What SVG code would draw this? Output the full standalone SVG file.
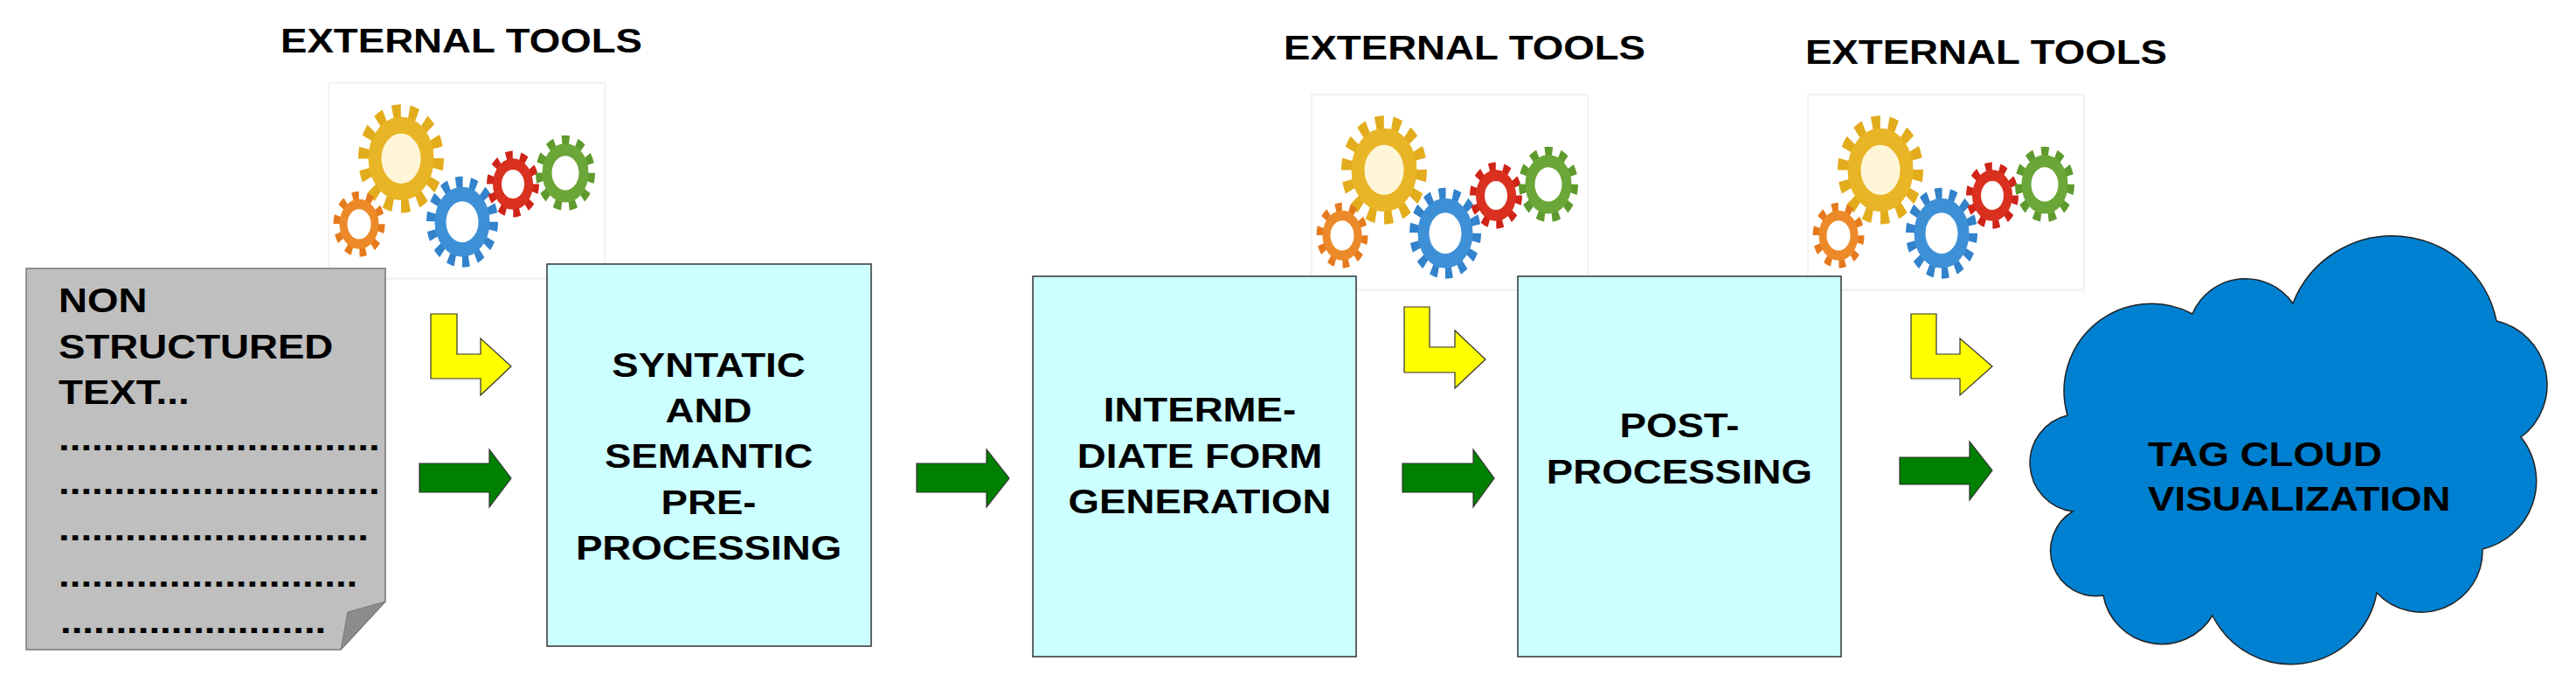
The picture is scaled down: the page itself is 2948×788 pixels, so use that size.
<svg xmlns="http://www.w3.org/2000/svg" xmlns:xlink="http://www.w3.org/1999/xlink" width="2948" height="788" viewBox="0 0 2948 788">
<style>
.t{font-family:"Liberation Sans",Arial,sans-serif;font-weight:bold;font-size:39px;fill:#000}
.m{text-anchor:middle}
.box{fill:#ccffff;stroke:#333;stroke-width:1.5}
.ya{fill:#ffff00;stroke:#333;stroke-width:1.2}
.ga{fill:#008000;stroke:#333;stroke-width:1.2}
</style>
<defs>
<g id="gears">
<rect x="0" y="0" width="316" height="176" fill="#fff" stroke="#f2f2f2" stroke-width="2"/>
<g transform="translate(83,68)"><circle r="40" fill="none" stroke="#e2ac1c" stroke-width="18" stroke-dasharray="9 8.9"/><circle r="30" fill="#fff6d8" stroke="#e8b526" stroke-width="15"/></g>
<g transform="translate(35,127)"><circle r="24" fill="none" stroke="#e57a1d" stroke-width="11" stroke-dasharray="7 8.1"/><circle r="18" fill="#fff" stroke="#ec8a2a" stroke-width="9"/></g>
<g transform="translate(153,125)"><circle r="34" fill="none" stroke="#3282cc" stroke-width="14" stroke-dasharray="7.5 7.8"/><circle r="25" fill="#fff" stroke="#3e90d6" stroke-width="13"/></g>
<g transform="translate(211,91)"><circle r="25" fill="none" stroke="#cf2418" stroke-width="10" stroke-dasharray="7.5 8.2"/><circle r="18" fill="#fff" stroke="#d9301f" stroke-width="10"/></g>
<g transform="translate(271,81)"><circle r="28" fill="none" stroke="#5f9a2e" stroke-width="12" stroke-dasharray="8 8"/><circle r="21" fill="#fff" stroke="#6ba638" stroke-width="11"/></g>
</g>
</defs>
<g id="tools1"><use xlink:href="#gears" transform="translate(376,95) scale(1,1.27)"/></g>
<g id="tools2"><use xlink:href="#gears" transform="translate(1501,108) scale(1,1.27)"/></g>
<g id="tools3"><use xlink:href="#gears" transform="translate(2069,108) scale(1,1.27)"/></g>
<g id="doc">
<path d="M30,307 H441 V688 L390,743 H30 Z" fill="#bfbfbf" stroke="#777" stroke-width="1.5"/>
<path d="M441,688 L390,743 L398,700 Z" fill="#8c8c8c" stroke="#777" stroke-width="1"/>
</g>
<g id="box1"><rect class="box" x="626" y="302" width="371" height="437"/></g>
<g id="box2"><rect class="box" x="1182" y="316" width="370" height="435"/></g>
<g id="box3"><rect class="box" x="1737" y="316" width="370" height="435"/></g>
<g id="cloud"><path d="M2366,475 A100,100 0 0 1 2509,359 A66,66 0 0 1 2624,347 A122,122 0 0 1 2857,367 A75,75 0 0 1 2885,500 A80,80 0 0 1 2841,628 A70,70 0 0 1 2720,678 A100,100 0 0 1 2532,704 A68,68 0 0 1 2407,681 A52,52 0 0 1 2372,585 A56,56 0 0 1 2366,475 Z" fill="#0080d0" stroke="#222" stroke-width="1.5"/></g>
<g id="connectors">
<path class="ya" d="M493,359 H523 V405 H550 V387 L585,419 L550,452 V433 H493 Z"/>
<path class="ya" d="M1607,351 H1636 V397 H1665 V378 L1700,411 L1665,444 V426 H1607 Z"/>
<path class="ya" d="M2187,359 H2216 V405 H2243 V387 L2280,419 L2243,452 V433 H2187 Z"/>
<path class="ga" d="M480,530 H560 V514 L585,547 L560,580 V563 H480 Z"/>
<path class="ga" d="M1049,530 H1129 V514 L1155,547 L1129,580 V563 H1049 Z"/>
<path class="ga" d="M1605,530 H1686 V514 L1710,547 L1686,580 V563 H1605 Z"/>
<path class="ga" d="M2174,523 H2254 V505 L2280,538 L2254,572 V554 H2174 Z"/>
</g>
<g id="labels" transform="scale(1.17,1)">
<text class="t m" x="451.3" y="60">EXTERNAL TOOLS</text>
<text class="t m" x="1432.5" y="68">EXTERNAL TOOLS</text>
<text class="t m" x="1942.7" y="73">EXTERNAL TOOLS</text>
<text class="t" x="57.3" y="357">NON</text>
<text class="t" x="57.3" y="410">STRUCTURED</text>
<text class="t" x="57.3" y="462">TEXT...</text>
<text class="t" x="57.3" y="515">.............................</text>
<text class="t" x="57.3" y="565">.............................</text>
<text class="t" x="57.3" y="618">............................</text>
<text class="t" x="57.3" y="671">...........................</text>
<text class="t" x="59" y="724">........................</text>
<text class="t m" x="693.2" y="431">SYNTATIC</text>
<text class="t m" x="693.2" y="483">AND</text>
<text class="t m" x="693.2" y="535">SEMANTIC</text>
<text class="t m" x="693.2" y="588">PRE-</text>
<text class="t m" x="693.2" y="640">PROCESSING</text>
<text class="t m" x="1173.5" y="482">INTERME-</text>
<text class="t m" x="1173.5" y="535">DIATE FORM</text>
<text class="t m" x="1173.5" y="587">GENERATION</text>
<text class="t m" x="1642.7" y="500">POST-</text>
<text class="t m" x="1642.7" y="553">PROCESSING</text>
<text class="t" x="2100.9" y="533">TAG CLOUD</text>
<text class="t" x="2100.9" y="584">VISUALIZATION</text>
</g>
</svg>
